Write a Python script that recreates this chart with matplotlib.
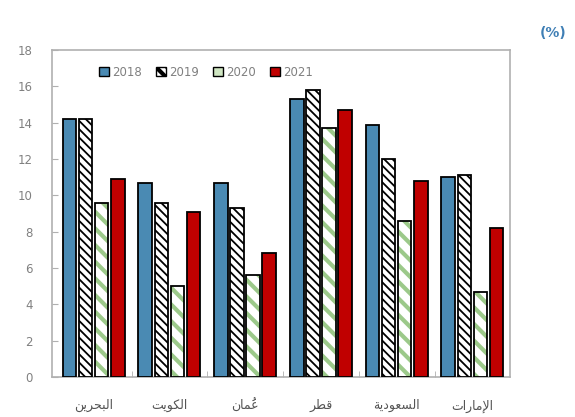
import unicodedata
import numpy as np
import matplotlib
matplotlib.use("Agg")
import matplotlib.pyplot as plt
from matplotlib.patches import Patch

categories = ["البحرين", "الكويت", "عُمان", "قطر", "السعودية", "الإمارات"]
years = ["2018", "2019", "2020", "2021"]
v2018 = [14.2, 10.7, 10.7, 15.3, 13.9, 11.0]
v2019 = [14.2, 9.6, 9.3, 15.8, 12.0, 11.1]
v2020 = [9.6, 5.0, 5.6, 13.7, 8.6, 4.7]
v2021 = [10.9, 9.1, 6.8, 14.7, 10.8, 8.2]
yticks = [0, 2, 4, 6, 8, 10, 12, 14, 16, 18]

# ---- minimal Arabic shaping (presentation forms, visual order) ----
FORMS = {  # iso, fin, ini, med
    'ا': ('\uFE8D', '\uFE8E', None, None),
    'إ': ('\uFE87', '\uFE88', None, None),
    'أ': ('\uFE83', '\uFE84', None, None),
    'ب': ('\uFE8F', '\uFE90', '\uFE91', '\uFE92'),
    'ت': ('\uFE95', '\uFE96', '\uFE97', '\uFE98'),
    'ح': ('\uFEA1', '\uFEA2', '\uFEA3', '\uFEA4'),
    'د': ('\uFEA9', '\uFEAA', None, None),
    'ر': ('\uFEAD', '\uFEAE', None, None),
    'ز': ('\uFEAF', '\uFEB0', None, None),
    'س': ('\uFEB1', '\uFEB2', '\uFEB3', '\uFEB4'),
    'ط': ('\uFEC1', '\uFEC2', '\uFEC3', '\uFEC4'),
    'ع': ('\uFEC9', '\uFECA', '\uFECB', '\uFECC'),
    'ق': ('\uFED5', '\uFED6', '\uFED7', '\uFED8'),
    'ك': ('\uFED9', '\uFEDA', '\uFEDB', '\uFEDC'),
    'ل': ('\uFEDD', '\uFEDE', '\uFEDF', '\uFEE0'),
    'م': ('\uFEE1', '\uFEE2', '\uFEE3', '\uFEE4'),
    'ن': ('\uFEE5', '\uFEE6', '\uFEE7', '\uFEE8'),
    'ة': ('\uFE93', '\uFE94', None, None),
    'و': ('\uFEED', '\uFEEE', None, None),
    'ي': ('\uFEF1', '\uFEF2', '\uFEF3', '\uFEF4'),
}
LAMALEF = {
    'ا': ('\uFEFB', '\uFEFC', None, None),
    'إ': ('\uFEF9', '\uFEFA', None, None),
    'أ': ('\uFEF7', '\uFEF8', None, None),
}


def shape(s):
    clusters = []
    for c in s:
        if unicodedata.combining(c) and clusters:
            clusters[-1][1] += c
        else:
            clusters.append([c, ''])
    merged = []
    i = 0
    while i < len(clusters):
        b, m = clusters[i]
        if b == 'ل' and i + 1 < len(clusters) and clusters[i + 1][0] in LAMALEF:
            merged.append([LAMALEF[clusters[i + 1][0]], m + clusters[i + 1][1]])
            i += 2
        else:
            merged.append([FORMS.get(b, (b, b, None, None)), m])
            i += 1
    out = []
    for k, (f, m) in enumerate(merged):
        prev_joins = k > 0 and merged[k - 1][0][2] is not None
        next_exists = k + 1 < len(merged)
        can_next = f[2] is not None and next_exists
        if prev_joins and can_next:
            g = f[3]
        elif prev_joins:
            g = f[1]
        elif can_next:
            g = f[2]
        else:
            g = f[0]
        out.append(m + g)
    return ''.join(reversed(out))


fig = plt.figure(figsize=(5.75, 4.17), dpi=100)
ax = fig.add_axes([0.0904, 0.096, 0.797, 0.784])

x = np.arange(len(categories))
w = 0.18
step = 0.212
offs = [-1.5 * step, -0.5 * step, 0.5 * step, 1.5 * step]
blue = '#4a8ab3'
red = '#c00000'
green = '#9cc98a'

ax.bar(x + offs[0], v2018, w, color=blue, edgecolor='black', linewidth=1.3, zorder=3)
plt.rcParams['hatch.linewidth'] = 1.3
ax.bar(x + offs[1], v2019, w, color='white', edgecolor='black', hatch='\\\\\\\\', linewidth=1.3, zorder=3)
h2019 = Patch(facecolor='white', edgecolor='black', hatch='\\\\\\', label='2019')
plt.rcParams['hatch.linewidth'] = 3.0
ax.bar(x + offs[2], v2020, w, color='white', edgecolor=green, hatch='\\\\', linewidth=0, zorder=3)
ax.bar(x + offs[2], v2020, w, fill=False, edgecolor='black', linewidth=1.3, zorder=4)
ax.bar(x + offs[3], v2021, w, color=red, edgecolor='black', linewidth=1.3, zorder=3)

ax.set_xlim(-0.55, 5.5)
ax.set_ylim(0, 18)
ax.set_yticks(yticks)
ax.set_yticklabels([str(t) for t in yticks], color='#808080', fontsize=8.5, family='DejaVu Sans')
ax.set_xticks(x)
ax.set_xticklabels([shape(c) for c in categories], color='#555555', fontsize=9, family='DejaVu Sans')
ax.tick_params(axis='x', length=0, pad=16)
ax.set_xticks(np.arange(len(categories) - 1) + 0.5, minor=True)
ax.tick_params(axis='x', which='minor', direction='in', length=4, color='#b0b0b0')
ax.tick_params(axis='y', direction='in', length=4, color='#b0b0b0', pad=14)
for sp in ax.spines.values():
    sp.set_color('#b0b0b0')
    sp.set_linewidth(1.2)

handles = [
    Patch(facecolor=blue, edgecolor='black', label='2018'),
    h2019,
    Patch(facecolor='#cfe6c2', edgecolor='black', label='2020'),
    Patch(facecolor=red, edgecolor='black', label='2021'),
]
leg = ax.legend(handles=handles, labels=years, loc='upper left', bbox_to_anchor=(0.08, 0.985), ncol=4,
                frameon=False, fontsize=8.5, handlelength=0.8, handleheight=0.8,
                handletextpad=0.3, columnspacing=1.2, labelcolor='#808080')

fig.text(0.985, 0.92, '(%)', color='#3f7fb5', fontsize=10, fontweight='bold', ha='right', va='center')

fig.savefig('out.png', dpi=100)
